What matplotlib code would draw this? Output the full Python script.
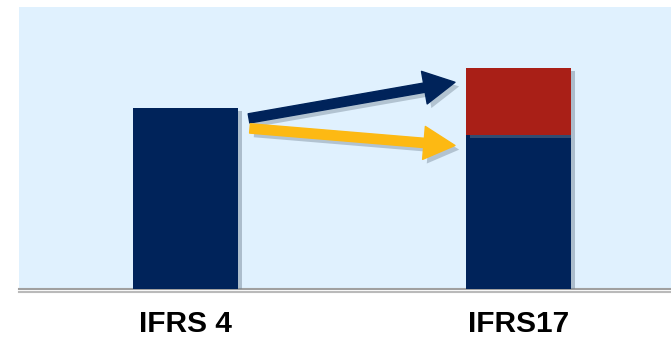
import numpy as np
import matplotlib
matplotlib.use("Agg")
import matplotlib.pyplot as plt
import matplotlib.patheffects as pe

# -----------------------------
# Data (arbitrary units)
# -----------------------------
categories = ["IFRS 4", "IFRS17"]
base_values = [180, 153]     # navy part
extra_values = [0, 67]       # red part on top
y_top = 281

navy = "#00235A"
red = "#A91F17"
yellow = "#FDB913"
bg = "#E0F1FE"

fig = plt.figure(figsize=(6.71, 3.41), dpi=100)
ax = fig.add_axes([19/671, 52/341, 652/671, 282/341])
ax.set_facecolor(bg)

shadow = [pe.SimplePatchShadow(offset=(3, -2), shadow_rgbFace="#6d7f8f", alpha=0.45), pe.Normal()]

x = np.arange(len(categories))
w = 0.315
b1 = ax.bar(x, base_values, width=w, color=navy, zorder=3)
b2 = ax.bar(x, extra_values, width=w, bottom=base_values, color=red, zorder=3)
for r in list(b1) + list(b2):
    r.set_path_effects(shadow)

# arrows from IFRS 4 bar to the IFRS17 bar
def px2data(px, py):
    xd = -0.5 + (px - 19) / 333
    yd = (288 - py)
    return xd, yd

arrows = [((249, 118), (455, 82), navy), ((250, 128), (455, 145), yellow)]
for (p0, p1, c) in arrows:
    x0, y0 = px2data(*p0)
    x1, y1 = px2data(*p1)
    a = ax.annotate("", xy=(x1, y1), xytext=(x0, y0),
                    arrowprops=dict(arrowstyle="simple,head_length=1.6,head_width=1.7,tail_width=0.48",
                                    color=c, shrinkA=0, shrinkB=0, mutation_scale=14),
                    zorder=4)
    a.arrow_patch.set_path_effects([pe.SimplePatchShadow(offset=(3, -3), shadow_rgbFace="#6d7f8f", alpha=0.4), pe.Normal()])

ax.set_xlim(-0.5, 1.458)
ax.set_ylim(0, y_top)
for s in ["top", "right", "left"]:
    ax.spines[s].set_visible(False)
ax.spines["bottom"].set_color("#a0a0a0")
ax.spines["bottom"].set_linewidth(1.5)
ax.spines["bottom"].set_path_effects([pe.SimpleLineShadow(offset=(0, -2), shadow_color="#777777", alpha=0.5), pe.Normal()])
ax.set_yticks([])
ax.set_xticks(x)
ax.set_xticklabels(categories, fontsize=21.5, fontweight="bold", family="Liberation Sans")
ax.tick_params(axis="x", length=0, pad=15)

fig.savefig("out.png", dpi=100)
